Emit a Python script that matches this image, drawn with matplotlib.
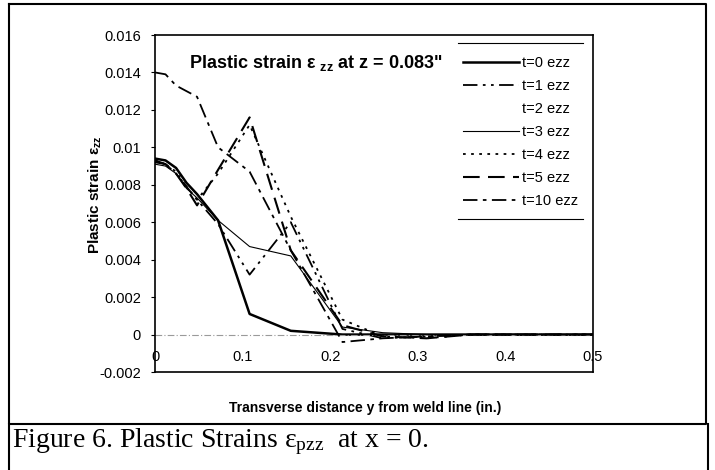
import matplotlib
matplotlib.use('Agg')

import matplotlib.pyplot as plt
from matplotlib.lines import Line2D

plt.rcParams['font.family'] = ['Liberation Sans', 'DejaVu Sans']

# transverse distance y (in.)
y_pos = [0, 0.012, 0.024, 0.036, 0.048, 0.072, 0.108, 0.155, 0.214, 0.26, 0.31, 0.36, 0.5]

ezz_t0 = [0.0094, 0.0093, 0.0089, 0.0081, 0.0075, 0.0061, 0.0011, 0.0002, 0.0000, 0.0, 0.0, 0.0, 0.0]
ezz_t1 = [0.0092, 0.0091, 0.0087, 0.0079, 0.0072, 0.0059, 0.0032, 0.0060, 0.0003, -0.0002, -0.0001, 0.0, 0.0]
ezz_t2 = [0.0, 0.0, 0.0, 0.0, 0.0, 0.0, 0.0, 0.0, 0.0, 0.0, 0.0, 0.0, 0.0]
ezz_t3 = [0.0091, 0.0090, 0.0086, 0.0078, 0.0073, 0.0061, 0.0047, 0.0042, 0.0004, 0.0001, 0.0, 0.0, 0.0]
ezz_t4 = [0.0093, 0.0091, 0.0086, 0.0079, 0.0072, 0.0086, 0.0112, 0.0063, 0.0008, -0.0001, -0.0002, 0.0, 0.0]
ezz_t5 = [0.0093, 0.0091, 0.0086, 0.0078, 0.0069, 0.0088, 0.0116, 0.0045, 0.0005, -0.0001, -0.0002, 0.0, 0.0]
ezz_t10 = [0.0140, 0.0139, 0.0133, 0.0130, 0.0127, 0.0100, 0.0087, 0.0045, -0.0004, -0.0002, -0.0001, 0.0, 0.0]

y_ticks = [-0.002, 0, 0.002, 0.004, 0.006, 0.008, 0.01, 0.012, 0.014, 0.016]
y_tick_labels = ['-0.002', '0', '0.002', '0.004', '0.006', '0.008', '0.01', '0.012', '0.014', '0.016']
x_ticks = [0, 0.1, 0.2, 0.3, 0.4, 0.5]
x_tick_labels = ['0', '0.1', '0.2', '0.3', '0.4', '0.5']

fig = plt.figure(figsize=(7.15, 4.7), dpi=100)
ax = fig.add_axes([155 / 715, 1 - 372 / 470, 438 / 715, 337 / 470])

ax.plot(y_pos, ezz_t0, color='black', lw=1.8, label='t=0 ezz')
ax.plot(y_pos, ezz_t1, color='black', lw=1.3, ls=(0, (8, 3, 1.5, 3, 1.5, 3)), label='t=1 ezz')
ax.plot(y_pos, ezz_t2, color='#9a9a9a', lw=0.8, ls=(0, (6, 2, 1, 2)), label='t=2 ezz')
ax.plot(y_pos, ezz_t3, color='black', lw=0.8, label='t=3 ezz')
ax.plot(y_pos, ezz_t4, color='black', lw=1.3, ls=(0, (1.5, 3)), label='t=4 ezz')
ax.plot(y_pos, ezz_t5, color='black', lw=1.5, ls=(0, (8, 4)), label='t=5 ezz')
ax.plot(y_pos, ezz_t10, color='black', lw=1.3, ls=(0, (8, 3, 2, 3)), label='t=10 ezz')

ax.set_xlim(0, 0.5)
ax.set_ylim(-0.002, 0.016)
ax.set_yticks(y_ticks)
ax.set_yticklabels(y_tick_labels, fontsize=10.5)
ax.set_xticks([])
ax.tick_params(axis='y', length=3, width=0.8, pad=7)
for s in ax.spines.values():
    s.set_linewidth(1.2)

# x tick labels sit just under the zero line, like Excel
for xv, lab in zip(x_ticks, x_tick_labels):
    ax.text(xv, -0.0012, lab, ha='center', va='center', fontsize=10.5)

ax.text(0.039, 0.0145, 'Plastic strain ε $\\mathregular{_{zz}}$ at z = 0.083"',
        fontsize=13, fontweight='bold', ha='left', va='center')

leg = ax.legend(loc='upper right', bbox_to_anchor=(0.98, 0.955), frameon=False,
                fontsize=10.5, handlelength=3.8, handletextpad=0.25,
                labelspacing=0.62, borderaxespad=0)
leg.get_lines()[2].set_visible(False)
ax.plot([0.692, 0.977], [0.976, 0.976], transform=ax.transAxes, color='black', lw=0.8, clip_on=False)
ax.plot([0.692, 0.977], [0.454, 0.454], transform=ax.transAxes, color='black', lw=0.8, clip_on=False)

fig.text(95 / 715, 1 - 195 / 470, 'Plastic strain ε$\\mathregular{_{zz}}$', rotation=90,
         fontsize=11, fontweight='bold', ha='center', va='center')
fig.text(365 / 715, 1 - 408 / 470, 'Transverse distance y from weld line (in.)',
         fontsize=10, fontweight='bold', ha='center', va='center')
fig.text(12 / 715, 1 - 442 / 470, 'Figure 6. Plastic Strains ε$\\mathregular{_{pzz}}$  at x = 0.',
         fontsize=20, family=['Liberation Serif', 'DejaVu Serif'], ha='left', va='center')

# frame around chart and caption
def fline(xs, ys, lw=1.5):
    fig.add_artist(Line2D([x / 715 for x in xs], [1 - y / 470 for y in ys], color='black', lw=lw))

fline([9, 706, 706, 9, 9], [4, 4, 424, 424, 4])
fline([9, 9], [424, 470])
fline([708, 708], [424, 470])

fig.savefig('out.png', dpi=100)
